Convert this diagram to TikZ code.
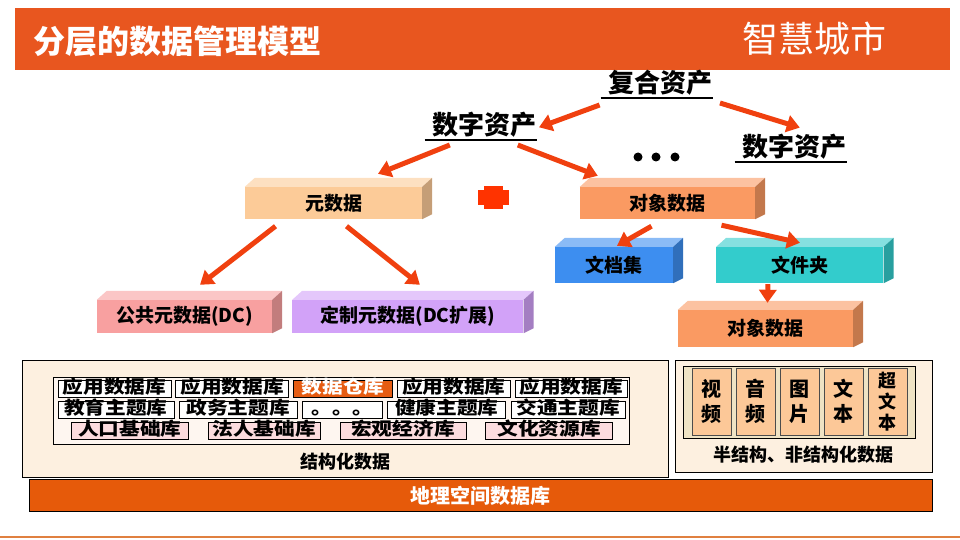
\documentclass[tikz,border=0pt]{standalone}
\usepackage{fontspec}
\setmainfont{Noto Sans CJK SC}
\usetikzlibrary{arrows.meta,positioning}

\definecolor{bannerorange}{HTML}{E8561F}
\definecolor{arrowred}{HTML}{F0400F}
\definecolor{plusred}{HTML}{FF3300}
\definecolor{peach}{HTML}{FCCB98}
\definecolor{salmon}{HTML}{FA9A62}
\definecolor{docblue}{HTML}{3D8EF0}
\definecolor{foldercyan}{HTML}{33CCCC}
\definecolor{pinkbox}{HTML}{F8A0A0}
\definecolor{lilac}{HTML}{D2A2F8}
\definecolor{panelbg}{HTML}{FDF0E0}
\definecolor{innerbg}{HTML}{FEF6F0}
\definecolor{warehouse}{HTML}{E65C12}
\definecolor{basepink}{HTML}{FCDCDE}
\definecolor{cellpeach}{HTML}{FCC898}
\definecolor{cellbg}{HTML}{EFE3C4}
\definecolor{geobar}{HTML}{E65A0A}
\definecolor{footline}{HTML}{E08040}

\tikzstyle{slab}=[
	rectangle,
	inner sep=0pt,
	font=\bfseries\fontsize{19}{19}\selectfont
]
\tikzstyle{asset}=[
	inner sep=0pt,
	text height=20pt,
	text depth=5pt,
	font=\bfseries\fontsize{26}{26}\selectfont
]
\tikzstyle{flow}=[
	-{Triangle[width=17pt,length=13pt]},
	line width=5pt,
	draw=arrowred
]
\tikzstyle{panel}=[
	rectangle,
	draw=black,
	line width=0.8pt,
	inner sep=0pt,
	anchor=north west
]
\tikzstyle{db}=[
	rectangle,
	draw=black,
	line width=0.8pt,
	fill=white,
	inner sep=0pt,
	minimum height=17pt,
	text height=12pt,
	text depth=3pt,
	font=\bfseries\fontsize{18}{18}\selectfont\addfontfeature{FakeStretch=1.15}
]
\tikzstyle{media}=[
	rectangle,
	draw=black!70,
	line width=0.6pt,
	fill=cellpeach,
	inner sep=0pt,
	minimum width=39pt,
	minimum height=67pt,
	align=center,
	font=\bfseries\fontsize{20}{25}\selectfont
]
\tikzstyle{caption}=[
	inner sep=0pt,
	font=\bfseries\fontsize{18}{18}\selectfont
]

% top and side faces of a slab node
\newcommand{\slabfaces}[2]{%
	\fill[#2!60!white] (#1.north west) -- ++(10,-9) -- ([shift={(10pt,9pt)}]#1.north east) -- (#1.north east) -- cycle;
	\fill[#2!78!black] (#1.north east) -- ++(10,-9) -- ([shift={(10pt,5pt)}]#1.south east) -- (#1.south east) -- cycle;
}

\begin{document}
\begin{tikzpicture}[x=1pt,y=-1pt]
\useasboundingbox (0,0) rectangle (960,540);

% banner
\fill[bannerorange] (15,8) rectangle (950,70);
\node[anchor=west, text=white, font=\bfseries\fontsize{32}{32}\selectfont] (title) at (30,41) {分层的数据管理模型};
\node[anchor=east, text=white, font=\fontsize{36}{36}\selectfont] (city) at (890,39) {智慧城市};

% assets
\node[asset, anchor=south east] (composite) at (713,98) {复合资产};
\node[asset, anchor=south east] (asset1) at (537,140) {数字资产};
\node[asset, anchor=south east] (asset2) at (847,162) {数字资产};
\draw[line width=1.2pt] ([xshift=-8pt]composite.south west) -- (composite.south east);
\draw[line width=1.2pt] ([xshift=-8pt]asset1.south west) -- (asset1.south east);
\draw[line width=1.2pt] ([xshift=-8pt]asset2.south west) -- (asset2.south east);
\fill (638,157) circle[radius=4.5pt];
\fill (656,157) circle[radius=4.5pt];
\fill (675,157) circle[radius=4.5pt];

% slabs
\node[slab, fill=peach, minimum width=177pt, minimum height=32pt] (meta) at (333.5,203) {元数据};
\slabfaces{meta}{peach}
\node[slab, fill=salmon, minimum width=175pt, minimum height=32pt] (objdata) at (667.5,203) {对象数据};
\slabfaces{objdata}{salmon}
\node[slab, fill=docblue, minimum width=118pt, minimum height=36pt] (docset) at (614,265) {文档集};
\slabfaces{docset}{docblue}
\node[slab, fill=foldercyan, minimum width=167pt, minimum height=36pt, right=43pt of docset] (folder) {文件夹};
\slabfaces{folder}{foldercyan}
\node[slab, fill=salmon, minimum width=175pt, minimum height=37pt] (objdata2) at (765.5,328.5) {对象数据};
\slabfaces{objdata2}{salmon}
\node[slab, fill=pinkbox, minimum width=175pt, minimum height=33pt] (dcmeta) at (184.5,316.5) {公共元数据(DC)};
\slabfaces{dcmeta}{pinkbox}
\node[slab, fill=lilac, minimum width=231pt, minimum height=33pt, right=20pt of dcmeta] (dcext) {定制元数据(DC扩展)};
\slabfaces{dcext}{lilac}

% plus
\fill[plusred] (478,190) rectangle (509,205);
\fill[plusred] (484,186) rectangle (503,209);

% arrows
\draw[flow] ([shift={(-9pt,-7pt)}]composite.south west) -- ([xshift=2pt]asset1.east);
\draw[flow] ([shift={(7pt,-5pt)}]composite.south east) -- ([shift={(5pt,9pt)}]asset2.north);
\draw[flow] ([shift={(-35pt,-5pt)}]asset1.south) -- ([shift={(44.5pt,13pt)}]meta.north);
\draw[flow] ([shift={(33pt,-5pt)}]asset1.south) -- ([shift={(18pt,11pt)}]objdata.north west);
\draw[flow] ([shift={(-58pt,-7pt)}]meta.south) -- ([shift={(15.5pt,15pt)}]dcmeta.north);
\draw[flow] ([shift={(13pt,-7pt)}]meta.south) -- ([shift={(12pt,15pt)}]dcext.north);
\draw[flow] ([shift={(-16pt,-7pt)}]objdata.south) -- ([shift={(3pt,1pt)}]docset.north);
\draw[flow] ([shift={(54pt,-6pt)}]objdata.south) -- ([yshift=4pt]folder.north);
\draw[flow] ([shift={(-32pt,-1pt)}]folder.south) -- ([shift={(2pt,7pt)}]objdata2.north);

% structured data
\node[panel, fill=panelbg, minimum width=646pt, minimum height=117pt] (structured) at (22,360) {};
\node[panel, fill=innerbg, minimum width=576.5pt, minimum height=67pt] (dbframe) at (52.5,377) {};
\node[db, minimum width=113pt, anchor=west] (app1) at (57.5,389) {应用数据库};
\node[db, minimum width=113pt, right=4pt of app1] (app2) {应用数据库};
\node[db, minimum width=99pt, right=4pt of app2, fill=warehouse, text=white] (warehouse) {数据仓库};
\node[db, minimum width=113pt, right=4pt of warehouse] (app3) {应用数据库};
\node[db, minimum width=112pt, right=4pt of app3] (app4) {应用数据库};
\node[db, minimum width=116pt, anchor=west] (edu) at (57.5,410) {教育主题库};
\node[db, minimum width=118pt, right=4.5pt of edu] (gov) {政务主题库};
\node[db, minimum width=80pt, right=4.5pt of gov] (more) {。。。};
\node[db, minimum width=118pt, right=4.5pt of more] (health) {健康主题库};
\node[db, minimum width=114pt, right=4.5pt of health] (traffic) {交通主题库};
\node[db, minimum width=117pt, anchor=west, fill=basepink] (people) at (71,431) {人口基础库};
\node[db, minimum width=112pt, right=19pt of people, fill=basepink] (corp) {法人基础库};
\node[db, minimum width=126pt, right=19pt of corp, fill=basepink] (macro) {宏观经济库};
\node[db, minimum width=127pt, right=19pt of macro, fill=basepink] (culture) {文化资源库};
\node[caption] (structlabel) at (345,462) {结构化数据};

% semi-structured data
\node[panel, fill=panelbg, minimum width=257pt, minimum height=112pt] (semi) at (675,360) {};
\node[panel, fill=cellbg, minimum width=232pt, minimum height=72pt] (mediaframe) at (683,366) {};
\node[media] (video) at (711.5,401.5) {视\\频};
\node[media, right=4.5pt of video] (audio) {音\\频};
\node[media, right=4.5pt of audio] (image) {图\\片};
\node[media, right=4.5pt of image] (plaintext) {文\\本};
\node[media, right=4.5pt of plaintext, font=\bfseries\fontsize{18}{21}\selectfont] (hypertext) {超\\文\\本};
\node[caption] (semilabel) at (803,455) {半结构、非结构化数据};

% spatial base
\node[panel, fill=geobar, minimum width=903pt, minimum height=32pt, text=white, font=\bfseries\fontsize{20}{20}\selectfont] (geo) at (29,479) {地理空间数据库};
\draw[footline, line width=1.5pt] (0,537) -- (960,537);
\end{tikzpicture}
\end{document}
